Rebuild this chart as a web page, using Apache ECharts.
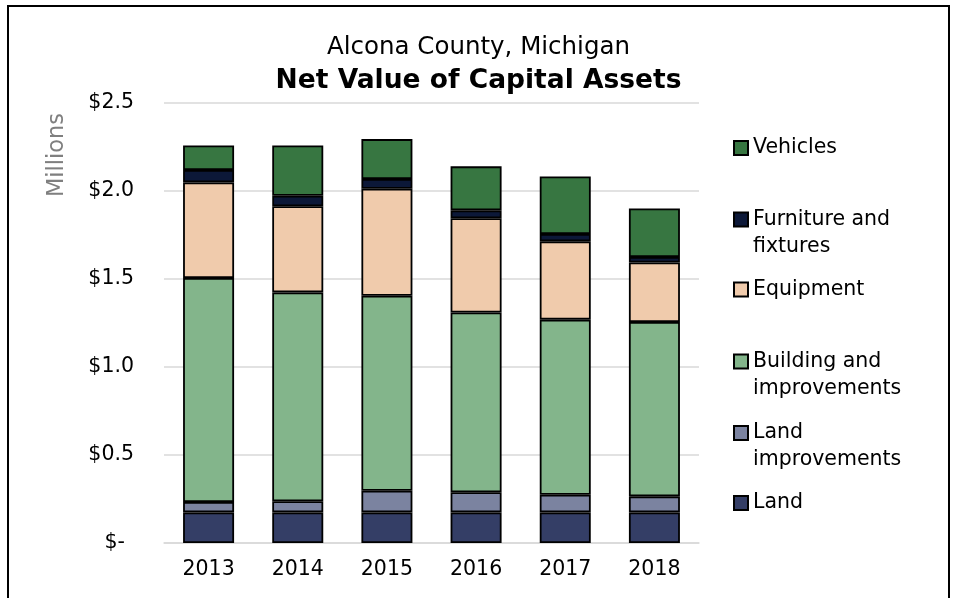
<!DOCTYPE html>
<html>
<head>
<meta charset="utf-8">
<script src="https://cdn.jsdelivr.net/npm/echarts@6/dist/echarts.min.js"></script>
<style>
html,body{margin:0;padding:0;background:#fff;}
#main{width:957px;height:598px;}
</style>
</head>
<body>
<div id="main"></div>
<script>
var years = ['2013','2014','2015','2016','2017','2018'];
var land = [0.174,0.174,0.174,0.174,0.174,0.174];
var landImprovements = [0.059,0.063,0.123,0.114,0.100,0.091];
var building = [1.273,1.187,1.108,1.022,0.995,0.991];
var equipment = [0.543,0.489,0.608,0.535,0.445,0.338];
var furniture = [0.070,0.060,0.055,0.045,0.042,0.031];
var vehicles = [0.140,0.286,0.227,0.250,0.327,0.276];
var yTicks = [0, 0.5, 1.0, 1.5, 2.0, 2.5];

var FONT = '"DejaVu Sans", sans-serif';

var seriesDefs = [
  {name:'Land', data:land, color:'#343E66'},
  {name:'Land improvements', data:landImprovements, color:'#7B83A0'},
  {name:'Building and improvements', data:building, color:'#83B58B'},
  {name:'Equipment', data:equipment, color:'#F0CBAC'},
  {name:'Furniture and fixtures', data:furniture, color:'#0C1838'},
  {name:'Vehicles', data:vehicles, color:'#377641'}
];

var legendLabels = {
  'Vehicles':'Vehicles',
  'Furniture and fixtures':'\nFurniture and\nfixtures',
  'Equipment':'Equipment',
  'Building and improvements':'\nBuilding and\nimprovements',
  'Land improvements':'\nLand\nimprovements',
  'Land':'Land'
};
var legendTops = {
  'Vehicles':134.5,
  'Furniture and fixtures':179,
  'Equipment':276,
  'Building and improvements':321,
  'Land improvements':392.5,
  'Land':489.5
};

var legends = seriesDefs.map(function(s){
  return {
    data:[s.name],
    left:733,
    top:legendTops[s.name],
    orient:'vertical',
    padding:0,
    icon:'rect',
    itemWidth:14,
    itemHeight:14,
    selectedMode:false,
    formatter:function(n){return legendLabels[n];},
    textStyle:{fontFamily:FONT, fontSize:20.5, color:'#000', lineHeight:27}
  };
});

var chart = echarts.init(document.getElementById('main'), null, {renderer:'canvas'});
chart.setOption({
  backgroundColor:'#fff',
  animation:false,
  title:[
    {text:'Alcona County, Michigan', left:'center', top:30,
     textStyle:{fontFamily:FONT, fontSize:24.5, fontWeight:'normal', color:'#000'}},
    {text:'Net Value of Capital Assets', left:'center', top:63,
     textStyle:{fontFamily:FONT, fontSize:26.5, fontWeight:'bold', color:'#000'}}
  ],
  legend:legends,
  grid:{left:164, right:258, top:103, bottom:55, containLabel:false},
  xAxis:{
    type:'category',
    data:years,
    axisTick:{show:false},
    axisLine:{lineStyle:{color:'#D9D9D9', width:1.5}},
    axisLabel:{fontFamily:FONT, fontSize:20.5, color:'#000', margin:16}
  },
  yAxis:{
    type:'value',
    min:0, max:2.5, interval:0.5,
    axisLine:{show:false},
    axisTick:{show:false},
    splitLine:{lineStyle:{color:'#D9D9D9', width:1.5}},
    axisLabel:{
      fontFamily:FONT, fontSize:20.5, color:'#000', margin:30,
      formatter:function(v){
        if (v === 0) return '{d|$-}';
        return '$' + v.toFixed(1);
      },
      rich:{d:{fontFamily:FONT, fontSize:20.5, color:'#000', padding:[0,9,0,0]}}
    }
  },
  graphic:[
    {type:'rect', shape:{x:8, y:6, width:941, height:610},
     style:{fill:'none', stroke:'#000', lineWidth:2}, silent:true, z:100},
    {type:'text', x:57, y:155, rotation:Math.PI/2,
     style:{text:'Millions', fontFamily:FONT, fontSize:22.5, fill:'#7F7F7F', align:'center', verticalAlign:'middle'}}
  ],
  series:seriesDefs.map(function(s){
    return {
      name:s.name,
      type:'bar',
      stack:'total',
      data:s.data,
      barWidth:51,
      itemStyle:{color:s.color, borderColor:'#000', borderWidth:1.8},
      emphasis:{disabled:true}
    };
  })
});
</script>
</body>
</html>
